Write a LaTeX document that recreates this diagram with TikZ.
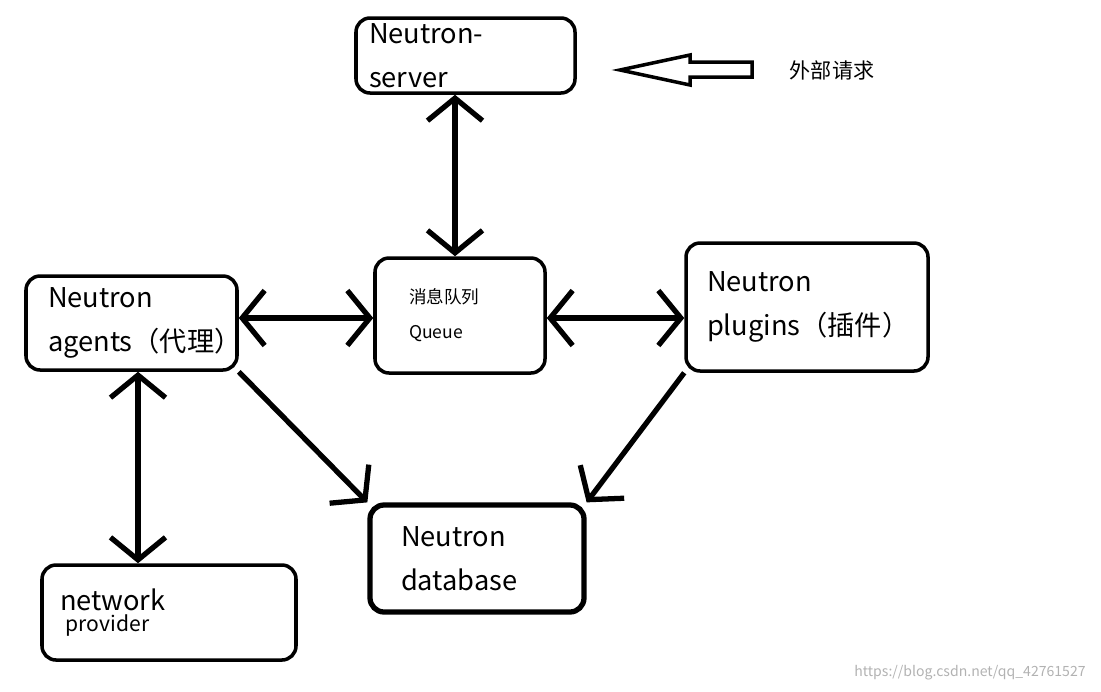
\documentclass[tikz,border=0pt]{standalone}
\usepackage{fontspec}
\setmainfont{Noto Sans CJK SC}
\usetikzlibrary{arrows.meta}
\usetikzlibrary{positioning}
\tikzset{box/.style={draw, line width=2pt, rounded corners=8pt, align=left, inner sep=0pt}}
\tikzset{ma/.style={line width=3pt, {Straight Barb[length=0.45cm,width=1.1cm]}-{Straight Barb[length=0.45cm,width=1.1cm]}}}

\begin{document}
\begin{tikzpicture}[x=0.02cm, y=-0.02cm]
\useasboundingbox (0,0) rectangle (1101,691);
\tikzset{
  bt/.style={font=\fontsize{15.5}{25}\selectfont},
}

\node [box, bt, minimum width=219*0.02cm, minimum height=75*0.02cm, text width=193*0.02cm] (srv) at (465.5,55.5) {Neutron-server};
\node [box, font=\fontsize{10}{20}\selectfont, minimum width=170*0.02cm, minimum height=115*0.02cm, text width=102*0.02cm] (q) at (460,315.5) {消息队列\\Queue\\[0.6em]};
\node [box, bt, minimum width=211*0.02cm, minimum height=94*0.02cm, text width=167*0.02cm] (agt) at (131.5,323) {Neutron\\agents（代理）};
\node [box, bt, minimum width=242*0.02cm, minimum height=128*0.02cm, text width=200*0.02cm] (plg) at (807,307) {Neutron\\plugins（插件）\\[0.1em]};
\node [box, bt, line width=3pt, minimum width=214*0.02cm, minimum height=107*0.02cm, text width=152*0.02cm] (db) at (477,558.5) {Neutron\\database};
\node [box, minimum width=254*0.02cm, minimum height=95*0.02cm, text width=218*0.02cm] (prov) at (169,612.5) {{\fontsize{15.5}{22}\selectfont network}\\ {\fontsize{12}{15}\selectfont\ provider}};

% connectors
\draw [ma] (srv.south -| 455,0) -- (q.north -| 455,0);
\draw [ma] (agt.east |- 0,318) -- (q.west |- 0,318);
\draw [ma] (q.east |- 0,318) -- (plg.west |- 0,318);
\draw [ma] (agt.south -| 138,0) -- (prov.north -| 138,0);
\draw [line width=3pt, -{Straight Barb[length=0.45cm,width=1.1cm]}] (agt.south east) -- (db.north west);
\draw [line width=3pt, -{Straight Barb[length=0.45cm,width=1.1cm]}] (plg.south west) -- (db.north east);

% outside request
\node [font=\fontsize{12}{14}\selectfont] (req) at (832,70) {外部请求};
\draw [line width=2pt] (752,62) -- (690,62) -- (690,55) -- (620,70) -- (690,85) -- (690,77) -- (752,77) -- cycle;

\node [font=\fontsize{8}{10}\selectfont, text=gray!60] (wm) at (970,673) {https://blog.csdn.net/qq\_42761527};
\end{tikzpicture}
\end{document}
